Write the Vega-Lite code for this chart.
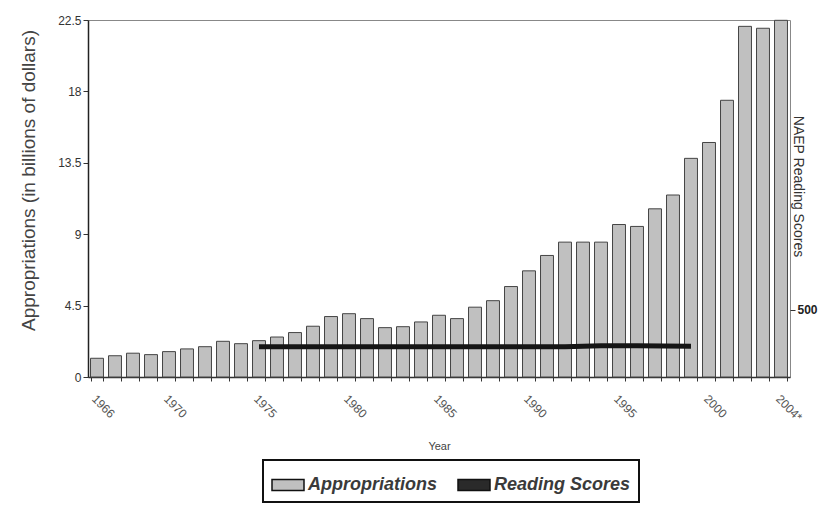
{
  "$schema": "https://vega.github.io/schema/vega-lite/v6.json",
  "width": 702,
  "height": 357,
  "autosize": {"type": "none"},
  "padding": {"left": 88, "top": 20, "right": 28, "bottom": 131},
  "background": "white",
  "config": {
    "font": "Liberation Sans",
    "view": {"stroke": "#888888", "strokeWidth": 1},
    "legend": {"strokeWidth": 2}
  },
  "datasets": {
    "approp": [
      {"year": 1966, "value": 1.18, "series": "Appropriations"}, {"year": 1967, "value": 1.34, "series": "Appropriations"}, {"year": 1968, "value": 1.50, "series": "Appropriations"},
      {"year": 1969, "value": 1.41, "series": "Appropriations"}, {"year": 1970, "value": 1.60, "series": "Appropriations"}, {"year": 1971, "value": 1.77, "series": "Appropriations"},
      {"year": 1972, "value": 1.91, "series": "Appropriations"}, {"year": 1973, "value": 2.25, "series": "Appropriations"}, {"year": 1974, "value": 2.10, "series": "Appropriations"},
      {"year": 1975, "value": 2.29, "series": "Appropriations"}, {"year": 1976, "value": 2.52, "series": "Appropriations"}, {"year": 1977, "value": 2.80, "series": "Appropriations"},
      {"year": 1978, "value": 3.20, "series": "Appropriations"}, {"year": 1979, "value": 3.81, "series": "Appropriations"}, {"year": 1980, "value": 3.99, "series": "Appropriations"},
      {"year": 1981, "value": 3.68, "series": "Appropriations"}, {"year": 1982, "value": 3.11, "series": "Appropriations"}, {"year": 1983, "value": 3.17, "series": "Appropriations"},
      {"year": 1984, "value": 3.47, "series": "Appropriations"}, {"year": 1985, "value": 3.89, "series": "Appropriations"}, {"year": 1986, "value": 3.68, "series": "Appropriations"},
      {"year": 1987, "value": 4.40, "series": "Appropriations"}, {"year": 1988, "value": 4.81, "series": "Appropriations"}, {"year": 1989, "value": 5.70, "series": "Appropriations"},
      {"year": 1990, "value": 6.69, "series": "Appropriations"}, {"year": 1991, "value": 7.66, "series": "Appropriations"}, {"year": 1992, "value": 8.50, "series": "Appropriations"},
      {"year": 1993, "value": 8.50, "series": "Appropriations"}, {"year": 1994, "value": 8.50, "series": "Appropriations"}, {"year": 1995, "value": 9.61, "series": "Appropriations"},
      {"year": 1996, "value": 9.49, "series": "Appropriations"}, {"year": 1997, "value": 10.60, "series": "Appropriations"}, {"year": 1998, "value": 11.47, "series": "Appropriations"},
      {"year": 1999, "value": 13.78, "series": "Appropriations"}, {"year": 2000, "value": 14.78, "series": "Appropriations"}, {"year": 2001, "value": 17.44, "series": "Appropriations"},
      {"year": 2002, "value": 22.10, "series": "Appropriations"}, {"year": 2003, "value": 21.98, "series": "Appropriations"}, {"year": 2004, "value": 22.48, "series": "Appropriations"}
    ],
    "reading": [
      {"year": 1975, "score": 226}, {"year": 1980, "score": 226}, {"year": 1984, "score": 226},
      {"year": 1988, "score": 226}, {"year": 1990, "score": 226}, {"year": 1992, "score": 226},
      {"year": 1994, "score": 232}, {"year": 1996, "score": 232}, {"year": 1999, "score": 229}
    ]
  },
  "layer": [
    {
      "data": {"name": "approp"},
      "mark": {"type": "bar", "stroke": "#444444", "strokeWidth": 1},
      "encoding": {
        "x": {
          "field": "year",
          "type": "ordinal",
          "scale": {"paddingInner": 0.28, "paddingOuter": 0.14},
          "axis": {
            "title": "Year",
            "titleFontSize": 11,
            "titleFontWeight": "normal",
            "titleColor": "#444444",
            "titlePadding": 18,
            "labelAngle": 45,
            "labelAlign": "left",
            "labelBaseline": "top",
            "labelFontSize": 12,
            "labelColor": "#555555",
            "labelPadding": 12,
            "labelExpr": "indexof([1966,1970,1975,1980,1985,1990,1995,2000], datum.value) >= 0 ? datum.label : (datum.value == 2004 ? '2004*' : '')",
            "domainColor": "#333333",
            "domainWidth": 1.5,
            "tickColor": "#333333",
            "tickSize": 4,
            "tickBand": "extent",
            "grid": false
          }
        },
        "y": {
          "field": "value",
          "type": "quantitative",
          "scale": {"domain": [0, 22.5], "nice": false},
          "axis": {
            "title": "Appropriations (in billions of dollars)",
            "titleFontSize": 19,
            "titleFontWeight": "normal",
            "titleColor": "#444444",
            "titleAngle": -90,
            "titleX": -60,
            "titleY": 160,
            "titleAlign": "center",
            "titleBaseline": "middle",
            "values": [0, 4.5, 9, 13.5, 18, 22.5],
            "format": ".1~f",
            "labelFontSize": 12,
            "labelColor": "#333333",
            "domainColor": "#222222",
            "domainWidth": 1.5,
            "tickColor": "#333333",
            "tickSize": 5,
            "grid": false
          }
        },
        "color": {
          "field": "series",
          "type": "nominal",
          "scale": {"domain": ["Appropriations", "Reading Scores"], "range": ["#c0c0c0", "#2a2a2a"]},
          "legend": {
            "title": null,
            "orient": "none",
            "legendX": 175,
            "legendY": 440,
            "direction": "horizontal",
            "strokeColor": "#111111",
            "padding": 8,
            "symbolType": "M-1,-0.34H1V0.34H-1Z",
            "symbolSize": 1024,
            "symbolStrokeColor": "#111111",
            "symbolStrokeWidth": 1.5,
            "symbolOpacity": 1,
            "labelFontSize": 18,
            "labelFontStyle": "italic",
            "labelFontWeight": "bold",
            "labelColor": "#3a3a3a",
            "labelOffset": 3,
            "columnPadding": 18,
            "labelLimit": 300
          }
        }
      }
    },
    {
      "data": {"name": "reading"},
      "mark": {"type": "line", "strokeWidth": 5, "strokeCap": "butt", "color": "#151515"},
      "encoding": {
        "x": {"field": "year", "type": "ordinal"},
        "y": {
          "field": "score",
          "type": "quantitative",
          "scale": {"domain": [0, 2660], "nice": false},
          "axis": {
            "orient": "right",
            "title": "NAEP Reading Scores",
            "titleFontSize": 14,
            "titleFontWeight": "normal",
            "titleColor": "#333333",
            "titleAngle": 90,
            "titleX": 7,
            "titleY": 166,
            "titleAlign": "center",
            "titleBaseline": "middle",
            "values": [500],
            "labelFontSize": 12,
            "labelFontWeight": "bold",
            "labelColor": "#222222",
            "labelPadding": 2,
            "domain": false,
            "tickColor": "#333333",
            "tickSize": 5,
            "grid": false
          }
        }
      }
    }
  ],
  "resolve": {"scale": {"y": "independent"}}
}
